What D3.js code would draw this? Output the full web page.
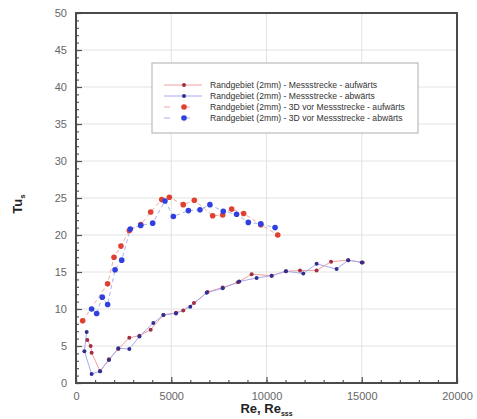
<!DOCTYPE html>
<html>
<head>
<meta charset="utf-8">
<script src="https://cdn.jsdelivr.net/npm/d3@7"></script>
<style>
  body { margin: 0; background: #fff; }
  svg { font-family: "Liberation Sans", Arial, sans-serif; }
</style>
</head>
<body>
<svg id="chart"></svg>
<script>
// Daten (Re, Tu_s)
const mkAuf = [[595, 5.8], [770, 5.0], [820, 4.1], [1260, 1.6], [1730, 3.2], [2220, 4.6], [2800, 6.1], [3330, 6.4], [3920, 7.2], [4590, 9.2], [5250, 9.5], [5630, 9.8], [6190, 10.8], [6900, 12.3], [7700, 12.9], [8500, 13.6], [9220, 14.7], [10270, 14.5], [11020, 15.1], [11760, 15.2], [12630, 15.2], [13390, 16.4], [14290, 16.6], [15050, 16.3]];
const mkAb = [[560, 6.9], [440, 4.3], [820, 1.2], [1260, 1.6], [1730, 3.1], [2220, 4.7], [2800, 4.6], [3330, 6.3], [4060, 8.1], [4590, 9.2], [5250, 9.4], [6000, 10.3], [6860, 12.2], [7700, 12.8], [8570, 13.7], [9480, 14.2], [10270, 14.5], [11020, 15.1], [11930, 14.8], [12630, 16.1], [13680, 15.4], [14290, 16.6], [15000, 16.3]];
const vorAuf = [[350, 8.4], [1660, 13.4], [1995, 17.0], [2360, 18.5], [2800, 20.6], [3400, 21.4], [3920, 23.1], [4500, 24.8], [4900, 25.1], [5630, 24.1], [6210, 24.7], [7175, 22.6], [7700, 22.7], [8170, 23.5], [8800, 22.9], [9700, 21.4], [10590, 20.0]];
const vorAb = [[820, 10.0], [1085, 9.4], [1380, 11.6], [1660, 10.6], [2050, 15.3], [2400, 16.6], [2850, 20.8], [3395, 21.3], [4025, 21.6], [4670, 24.6], [5110, 22.5], [5900, 23.3], [6510, 23.4], [7030, 24.1], [7730, 23.2], [8430, 22.8], [9045, 21.7], [9700, 21.5], [10450, 21.0]];

const legendLabels = [
  'Randgebiet (2mm) - Messstrecke - aufwärts',
  'Randgebiet (2mm) - Messstrecke - abwärts',
  'Randgebiet (2mm) - 3D vor Messstrecke - aufwärts',
  'Randgebiet (2mm) - 3D vor Messstrecke - abwärts'
];
const xTicks = [0, 5000, 10000, 15000, 20000];
const yTicks = [0, 5, 10, 15, 20, 25, 30, 35, 40, 45, 50];

const width = 477, height = 419;
const margin = { left: 76, right: 20, top: 13, bottom: 36 };

const svg = d3.select('#chart').attr('width', width).attr('height', height);

const x = d3.scaleLinear().domain([0, 20000]).range([margin.left, width - margin.right]);
const y = d3.scaleLinear().domain([0, 50]).range([height - margin.bottom, margin.top]);

// Gitterlinien
svg.append('g').selectAll('line')
  .data(yTicks.slice(1, -1)).enter().append('line')
  .attr('x1', x(0)).attr('x2', x(20000))
  .attr('y1', d => y(d)).attr('y2', d => y(d))
  .attr('stroke', '#e2e2e2').attr('stroke-width', 1);
svg.append('g').selectAll('line')
  .data(xTicks.slice(1, -1)).enter().append('line')
  .attr('y1', y(0)).attr('y2', y(50))
  .attr('x1', d => x(d)).attr('x2', d => x(d))
  .attr('stroke', '#e2e2e2').attr('stroke-width', 1);

// Achsen
const yAxis = d3.axisLeft(y).tickValues(yTicks).tickSize(-6).tickPadding(9);
const yMinor = d3.axisLeft(y).tickValues(d3.range(0, 51, 1)).tickSize(-3).tickFormat('');
const xAxis = d3.axisBottom(x).tickValues(xTicks).tickSize(-6).tickPadding(9).tickFormat(d3.format('d'));
const xMinor = d3.axisBottom(x).tickValues(d3.range(0, 20001, 1000)).tickSize(-3).tickFormat('');

function styleAxis(g) {
  g.select('.domain').remove();
  g.selectAll('line').attr('stroke', '#555').attr('stroke-width', 1.2);
  g.selectAll('text').attr('fill', '#666').style('font-size', '11px');
}
svg.append('g').attr('transform', `translate(${x(0)},0)`).call(yMinor).call(styleAxis);
svg.append('g').attr('transform', `translate(${x(0)},0)`).call(yAxis).call(styleAxis);
svg.append('g').attr('transform', `translate(0,${y(0)})`).call(xMinor).call(styleAxis);
svg.append('g').attr('transform', `translate(0,${y(0)})`).call(xAxis).call(styleAxis);

// Rahmen
svg.append('rect')
  .attr('x', x(0)).attr('y', y(50))
  .attr('width', x(20000) - x(0)).attr('height', y(0) - y(50))
  .attr('fill', 'none').attr('stroke', '#4a4a4a').attr('stroke-width', 2);

// Achsentitel
const yt = svg.append('text')
  .attr('transform', `translate(22,${(y(0) + y(50)) / 2 + 6}) rotate(-90)`)
  .attr('text-anchor', 'middle').attr('font-weight', 'bold').attr('font-size', 13).attr('fill', '#222');
yt.append('tspan').text('Tu');
yt.append('tspan').text('s').attr('font-size', 8).attr('dy', 3);

const xt = svg.append('text')
  .attr('x', (x(0) + x(20000)) / 2).attr('y', 413)
  .attr('text-anchor', 'middle').attr('font-weight', 'bold').attr('font-size', 13).attr('fill', '#222');
xt.append('tspan').text('Re, Re');
xt.append('tspan').text('sss').attr('font-size', 7).attr('dy', 3);

// Serien
const series = [
  { data: mkAuf, line: '#f0a0a0', dash: null, mark: '#a03040', r: 2 },
  { data: mkAb, line: '#a8a8f0', dash: null, mark: '#303090', r: 2 },
  { data: vorAuf, line: '#f4a8a0', dash: '4,3', mark: '#e04030', r: 2.8 },
  { data: vorAb, line: '#a8b0f4', dash: '4,3', mark: '#3040e0', r: 2.8 }
];
const line = d3.line().x(d => x(d[0])).y(d => y(d[1]));

series.forEach(s => {
  svg.append('path').datum(s.data)
    .attr('d', line).attr('fill', 'none')
    .attr('stroke', s.line).attr('stroke-width', 1)
    .attr('stroke-dasharray', s.dash);
});
series.forEach(s => {
  svg.append('g').selectAll('circle')
    .data(s.data).enter().append('circle')
    .attr('cx', d => x(d[0])).attr('cy', d => y(d[1]))
    .attr('r', s.r).attr('fill', s.mark);
});

// Legende
const legend = svg.append('g');
legend.append('rect')
  .attr('x', 152).attr('y', 63).attr('width', 266).attr('height', 70)
  .attr('fill', '#fff').attr('stroke', '#bbb').attr('stroke-width', 1.2);

legendLabels.forEach((label, i) => {
  const s = series[i];
  const ly = 85 + i * 11;
  legend.append('line')
    .attr('x1', 164).attr('x2', 202).attr('y1', ly).attr('y2', ly)
    .attr('stroke', s.line).attr('stroke-width', 1)
    .attr('stroke-dasharray', s.dash ? '6,14' : null);
  legend.append('circle').attr('cx', 184).attr('cy', ly).attr('r', s.r).attr('fill', s.mark);
  legend.append('text')
    .attr('x', 210).attr('y', ly + 3)
    .attr('font-size', 8.6).attr('fill', '#333')
    .text(label);
});
</script>
</body>
</html>
